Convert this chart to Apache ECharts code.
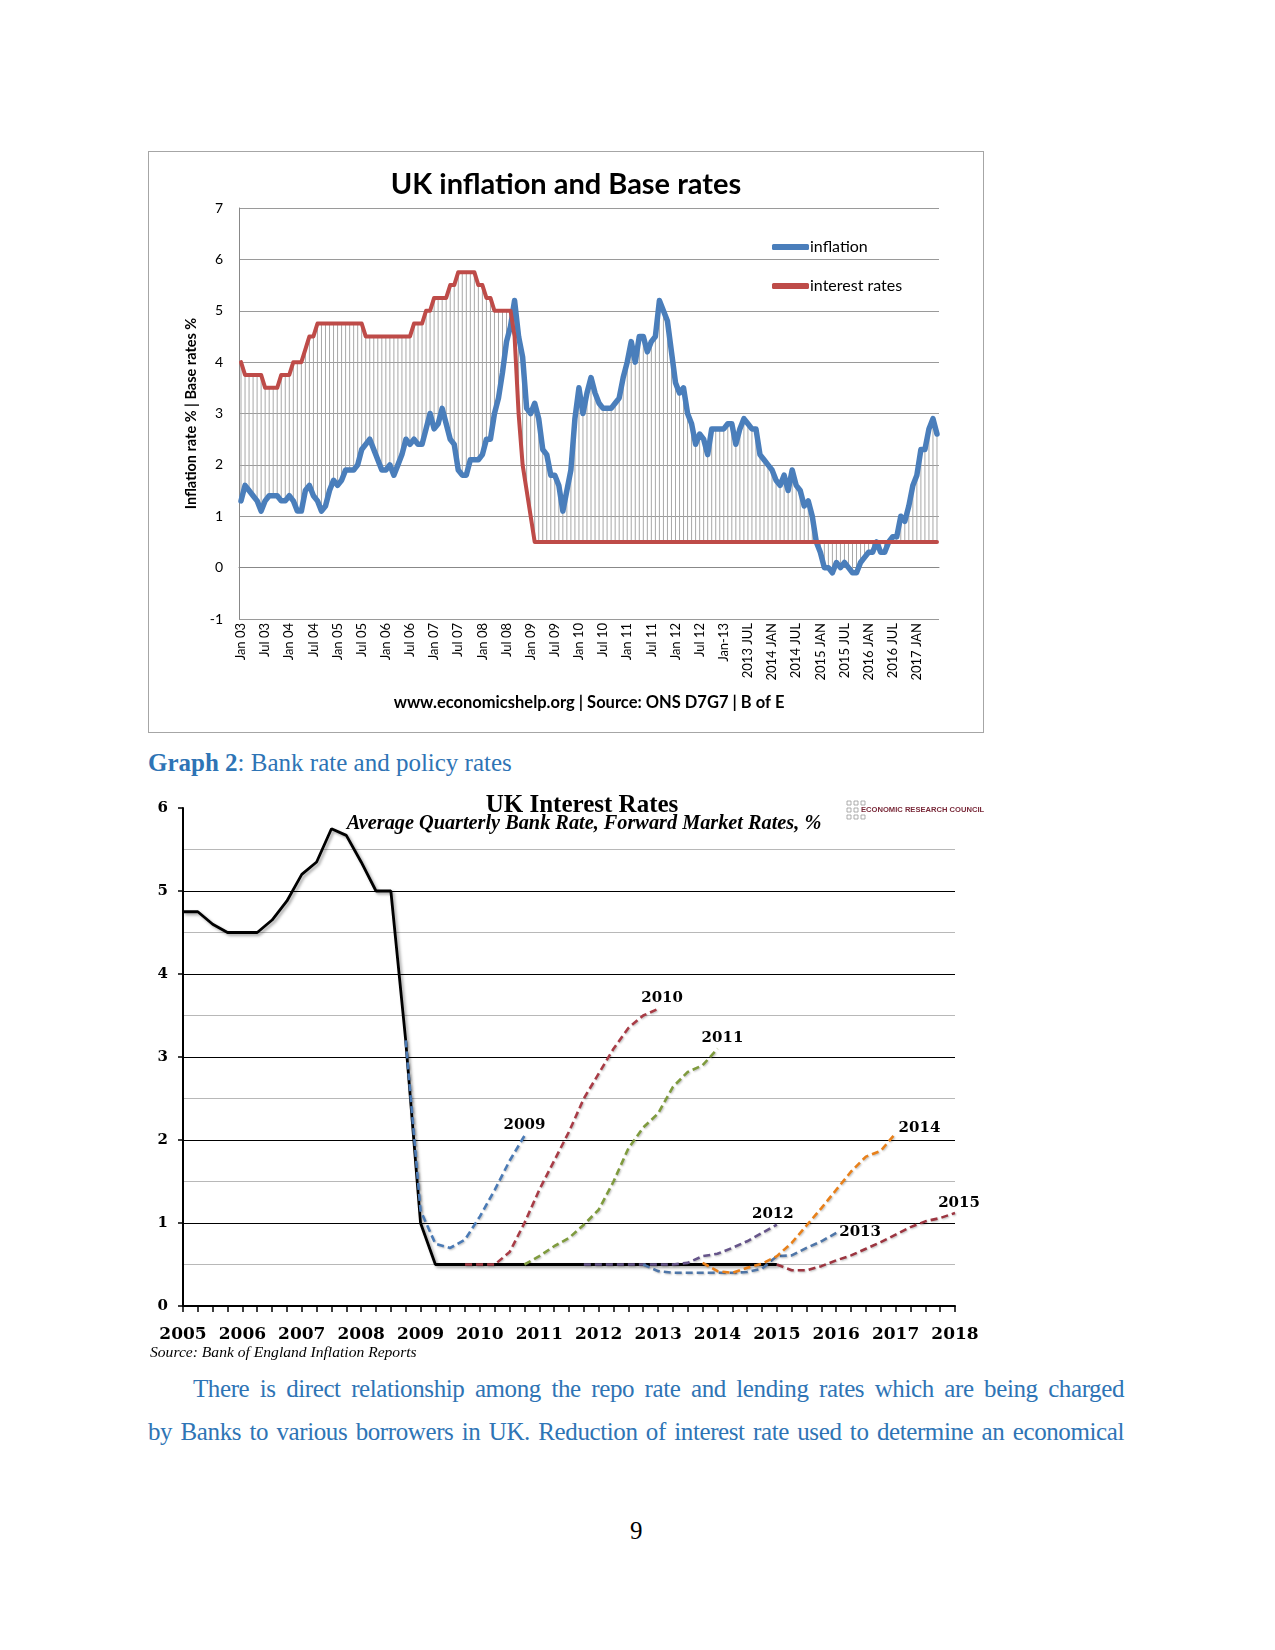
<!DOCTYPE html>
<html><head><meta charset="utf-8">
<script src="https://cdn.jsdelivr.net/npm/echarts@6/dist/echarts.min.js"></script>
<style>
html,body{margin:0;padding:0;background:#fff;}
body{width:1275px;height:1650px;position:relative;overflow:hidden;}
#c1{position:absolute;left:148px;top:151px;width:836px;height:582px;}
#b1{position:absolute;left:148px;top:151px;width:836px;height:582px;box-sizing:border-box;border:1px solid #a6a6a6;pointer-events:none;}
#c2{position:absolute;left:140px;top:785px;width:850px;height:580px;}
.t{position:absolute;font-family:"Liberation Serif","Times New Roman",serif;color:#2e74b5;font-size:25px;line-height:28px;white-space:nowrap;}
.j{text-align:justify;text-align-last:justify;white-space:nowrap;letter-spacing:-0.4px;}
</style></head>
<body>
<div id="c1"></div><div id="b1"></div>
<div class="t" style="left:148px;top:749px;"><b>Graph 2</b>: Bank rate and policy rates</div>
<div id="c2"></div>
<div class="t j" style="left:193px;top:1375px;width:931px;">There is direct relationship among the repo rate and lending rates which are being charged</div>
<div class="t j" style="left:148px;top:1418px;width:976px;">by Banks to various borrowers in UK. Reduction of interest rate used to determine an economical</div>
<div class="t" style="left:630px;top:1517px;color:#000;">9</div>
<script>
// ---------- Chart 1 data (monthly, Jan 2003 - Jun 2017) ----------
const tickLabels = ['Jan 03','Jul 03','Jan 04','Jul 04','Jan 05','Jul 05','Jan 06','Jul 06','Jan 07','Jul 07','Jan 08','Jul 08','Jan 09','Jul 09','Jan 10','Jul 10','Jan 11','Jul 11','Jan 12','Jul 12','Jan-13','2013 JUL','2014 JAN','2014 JUL','2015 JAN','2015 JUL','2016 JAN','2016 JUL','2017 JAN'];
const inflation = [
1.3,1.6,1.5,1.4,1.3,1.1,1.3,1.4,1.4,1.4,1.3,1.3,
1.4,1.3,1.1,1.1,1.5,1.6,1.4,1.3,1.1,1.2,1.5,1.7,
1.6,1.7,1.9,1.9,1.9,2.0,2.3,2.4,2.5,2.3,2.1,1.9,
1.9,2.0,1.8,2.0,2.2,2.5,2.4,2.5,2.4,2.4,2.7,3.0,
2.7,2.8,3.1,2.8,2.5,2.4,1.9,1.8,1.8,2.1,2.1,2.1,
2.2,2.5,2.5,3.0,3.3,3.8,4.4,4.7,5.2,4.5,4.1,3.1,
3.0,3.2,2.9,2.3,2.2,1.8,1.8,1.6,1.1,1.5,1.9,2.9,
3.5,3.0,3.4,3.7,3.4,3.2,3.1,3.1,3.1,3.2,3.3,3.7,
4.0,4.4,4.0,4.5,4.5,4.2,4.4,4.5,5.2,5.0,4.8,4.2,
3.6,3.4,3.5,3.0,2.8,2.4,2.6,2.5,2.2,2.7,2.7,2.7,
2.7,2.8,2.8,2.4,2.7,2.9,2.8,2.7,2.7,2.2,2.1,2.0,
1.9,1.7,1.6,1.8,1.5,1.9,1.6,1.5,1.2,1.3,1.0,0.5,
0.3,0.0,0.0,-0.1,0.1,0.0,0.1,0.0,-0.1,-0.1,0.1,0.2,
0.3,0.3,0.5,0.3,0.3,0.5,0.6,0.6,1.0,0.9,1.2,1.6,
1.8,2.3,2.3,2.7,2.9,2.6];
const interestRates = [
4.0,3.75,3.75,3.75,3.75,3.75,3.5,3.5,3.5,3.5,3.75,3.75,
3.75,4.0,4.0,4.0,4.25,4.5,4.5,4.75,4.75,4.75,4.75,4.75,
4.75,4.75,4.75,4.75,4.75,4.75,4.75,4.5,4.5,4.5,4.5,4.5,
4.5,4.5,4.5,4.5,4.5,4.5,4.5,4.75,4.75,4.75,5.0,5.0,
5.25,5.25,5.25,5.25,5.5,5.5,5.75,5.75,5.75,5.75,5.75,5.5,
5.5,5.25,5.25,5.0,5.0,5.0,5.0,5.0,4.5,3.0,2.0,1.5,
1.0,0.5,0.5,0.5,0.5,0.5,0.5,0.5,0.5,0.5,0.5,0.5,
0.5,0.5,0.5,0.5,0.5,0.5,0.5,0.5,0.5,0.5,0.5,0.5,
0.5,0.5,0.5,0.5,0.5,0.5,0.5,0.5,0.5,0.5,0.5,0.5,
0.5,0.5,0.5,0.5,0.5,0.5,0.5,0.5,0.5,0.5,0.5,0.5,
0.5,0.5,0.5,0.5,0.5,0.5,0.5,0.5,0.5,0.5,0.5,0.5,
0.5,0.5,0.5,0.5,0.5,0.5,0.5,0.5,0.5,0.5,0.5,0.5,
0.5,0.5,0.5,0.5,0.5,0.5,0.5,0.5,0.5,0.5,0.5,0.5,
0.5,0.5,0.5,0.5,0.5,0.5,0.5,0.5,0.5,0.5,0.5,0.5,
0.5,0.5,0.5,0.5,0.5,0.5];

// ---------- Chart 2 data (quarterly, 2005 Q1 - 2018 Q1) ----------
const yearLabels = ['2005','2006','2007','2008','2009','2010','2011','2012','2013','2014','2015','2016','2017','2018'];
const bankRate = [4.75,4.75,4.6,4.5, 4.5,4.5,4.65,4.88, 5.2,5.35,5.75,5.67, 5.35,5.0,5.0,3.2,
  1.0,0.5,0.5,0.5, 0.5,0.5,0.5,0.5, 0.5,0.5,0.5,0.5, 0.5,0.5,0.5,0.5, 0.5,0.5,0.5,0.5, 0.5,0.5,0.5,0.5, 0.5];
const curveNames = ['2009','2010','2011','2012','2013','2014','2015'];
const curveStart = [15,19,23,27,31,35,40];
const curve2009 = [3.2,1.15,0.75,0.7,0.8,1.08,1.4,1.75,2.05];
const curve2010 = [0.5,0.5,0.5,0.65,1.0,1.4,1.75,2.1,2.5,2.8,3.1,3.35,3.5,3.58];
const curve2011 = [0.5,0.6,0.72,0.82,0.98,1.16,1.5,1.9,2.15,2.32,2.64,2.82,2.9,3.1];
const curve2012 = [0.5,0.5,0.5,0.5,0.5,0.5,0.5,0.52,0.6,0.63,0.7,0.78,0.88,0.98];
const curve2013 = [0.5,0.42,0.4,0.4,0.4,0.4,0.4,0.41,0.45,0.6,0.61,0.7,0.78,0.88];
const curve2014 = [0.52,0.42,0.4,0.46,0.51,0.6,0.76,0.97,1.18,1.4,1.62,1.8,1.87,2.08];
const curve2015 = [0.5,0.43,0.43,0.48,0.55,0.61,0.69,0.77,0.86,0.95,1.02,1.06,1.12];
const curveValues = [curve2009,curve2010,curve2011,curve2012,curve2013,curve2014,curve2015];

// ---------- styles ----------
const curveColors = ['#4a7ab5','#a83c46','#7f9b3e','#66558a','#4f76a8','#e8801a','#9c3540'];
const curveLabel = [
  {align:'center',verticalAlign:'bottom',offset:[0,-3]},
  {align:'center',verticalAlign:'bottom',offset:[4,-3]},
  {align:'center',verticalAlign:'bottom',offset:[5,-3]},
  {align:'center',verticalAlign:'bottom',offset:[-4,-3]},
  {align:'left',verticalAlign:'middle',offset:[3,-1]},
  {align:'left',verticalAlign:'middle',offset:[3,-5]},
  {align:'center',verticalAlign:'bottom',offset:[4,-2]}
];

// ---------- Chart 1 ----------
const monthCats = [];
const catLabel = {};
for (let i = 0; i < inflation.length; i++) {
  const y = 2003 + Math.floor(i / 12), m = i % 12 + 1;
  const c = y + '-' + m;
  monthCats.push(c);
  if (i % 6 === 0) catLabel[c] = tickLabels[i / 6];
}
const dropData = monthCats.map((c, i) => [i, inflation[i], interestRates[i]]);
const f1 = 'Lato, "Open Sans", sans-serif';
const chart1 = echarts.init(document.getElementById('c1'));
chart1.setOption({
  animation: false,
  title: {text: 'UK inflation and Base rates', left: 'center', top: 14,
    textStyle: {fontFamily: f1, fontWeight: 'bold', fontSize: 29, color: '#000'}},
  legend: {orient: 'vertical', left: 619, top: 83, itemGap: 23, itemWidth: 37, itemHeight: 6,
    icon: 'roundRect', textStyle: {fontFamily: f1, fontSize: 16, color: '#000', padding: [0,0,0,-4]},
    data: ['inflation', 'interest rates']},
  grid: {left: 91, right: 45, top: 57, bottom: 114},
  xAxis: {type: 'category', data: monthCats, boundaryGap: true,
    axisLine: {lineStyle: {color: '#888'}}, axisTick: {show: false},
    axisLabel: {interval: 0, rotate: 90, margin: 4, fontFamily: f1, fontSize: 13, color: '#000',
      formatter: v => catLabel[v] || ''}},
  yAxis: {type: 'value', min: -1, max: 7, interval: 1,
    name: 'Inflation rate % | Base rates %', nameLocation: 'middle', nameGap: 37,
    nameTextStyle: {fontFamily: f1, fontWeight: 'bold', fontSize: 14.5, color: '#000'},
    axisLine: {show: true, lineStyle: {color: '#888'}}, axisTick: {show: false},
    axisLabel: {margin: 16, fontFamily: f1, fontSize: 14, color: '#000'},
    splitLine: {lineStyle: {color: '#9a9a9a', width: 1}}},
  series: [
    {type: 'custom', name: 'drops', data: dropData, encode: {x: 0, y: [1, 2]}, silent: true, z: 1,
      renderItem: (params, api) => {
        const a = api.coord([api.value(0), api.value(1)]);
        const b = api.coord([api.value(0), api.value(2)]);
        return {type: 'line', shape: {x1: a[0], y1: a[1], x2: b[0], y2: b[1]},
          style: {stroke: '#a8a8a8', lineWidth: 1}};
      }},
    {type: 'line', name: 'inflation', data: inflation, showSymbol: false, z: 3,
      itemStyle: {color: '#4a7ebb'}, lineStyle: {color: '#4a7ebb', width: 5.5, join: 'round', cap: 'round'}},
    {type: 'line', name: 'interest rates', data: interestRates, showSymbol: false, z: 4,
      itemStyle: {color: '#be4b48'}, lineStyle: {color: '#be4b48', width: 4, join: 'round', cap: 'round'}}
  ],
  graphic: [
    {type: 'text', x: 441, y: 552, style: {text: 'www.economicshelp.org | Source: ONS D7G7 | B of E',
      font: 'bold 16.5px Lato, sans-serif', fill: '#000', align: 'center', verticalAlign: 'middle'}}
  ]
});

// ---------- Chart 2 ----------
const quarterCats = [];
for (let y = 0; y < yearLabels.length; y++) {
  for (let q = 1; q <= 4; q++) {
    if (y === yearLabels.length - 1 && q > 1) break;
    quarterCats.push(yearLabels[y] + ' Q' + q);
  }
}
const serifB = '"DejaVu Serif", "Liberation Serif", serif';
function padSeries(start, vals) {
  const out = quarterCats.map(() => null);
  vals.forEach((v, k) => { out[start + k] = v; });
  return out;
}
const series2 = [{
  type: 'line', name: 'Bank Rate', data: padSeries(0, bankRate), showSymbol: false, z: 3,
  lineStyle: {color: '#000', width: 2.8, shadowColor: 'rgba(0,0,0,0.35)', shadowBlur: 3, shadowOffsetX: 2, shadowOffsetY: 2},
  itemStyle: {color: '#000'}
}];
curveNames.forEach((nm, k) => {
  series2.push({
    type: 'line', name: nm, data: padSeries(curveStart[k], curveValues[k]), showSymbol: false, z: 4,
    connectNulls: false,
    lineStyle: {color: curveColors[k], width: 2.6, type: [7, 4],
      shadowColor: 'rgba(0,0,0,0.25)', shadowBlur: 2, shadowOffsetX: 1, shadowOffsetY: 1},
    itemStyle: {color: curveColors[k]},
    endLabel: Object.assign({show: true, formatter: nm, distance: 0, color: '#000',
      fontFamily: serifB, fontWeight: 'bold', fontSize: 15}, curveLabel[k])
  });
});
const logo = [];
const sq = [[0,0],[7,0],[14,0],[0,7],[7,7],[0,14],[7,14],[14,14]];
sq.forEach(p => logo.push({type: 'rect', x: 707 + p[0], y: 16 + p[1],
  shape: {x: 0, y: 0, width: 4, height: 4}, style: {fill: '#fff', stroke: '#9a9a9a', lineWidth: 0.8}}));
logo.push({type: 'text', x: 721, y: 25, style: {text: 'ECONOMIC RESEARCH COUNCIL',
  font: 'bold 7.6px "Liberation Sans", Arial, sans-serif', fill: '#7a2a3a', align: 'left', verticalAlign: 'middle'}});

const chart2 = echarts.init(document.getElementById('c2'));
chart2.setOption({
  animation: false,
  grid: {left: 43, right: 35, top: 23, bottom: 59},
  xAxis: {type: 'category', data: quarterCats, boundaryGap: false,
    axisLine: {lineStyle: {color: '#000', width: 2}},
    axisTick: {show: true, interval: 0, length: 6, lineStyle: {color: '#000', width: 1.5}},
    axisLabel: {interval: 0, margin: 20, fontFamily: serifB, fontWeight: 'bold', fontSize: 17, color: '#000',
      formatter: v => v.endsWith('Q1') ? v.slice(0, 4) : ''},
    splitLine: {show: false}},
  yAxis: [
    {type: 'value', min: 0, max: 6, interval: 0.5,
      axisLine: {show: true, lineStyle: {color: '#000', width: 2}}, axisTick: {show: false},
      axisLabel: {margin: 15, fontFamily: serifB, fontWeight: 'bold', fontSize: 15, color: '#000',
        formatter: v => Number.isInteger(v) ? String(v) : ''},
      splitLine: {show: true, showMaxLine: false, lineStyle: {color: ['#000', '#b8b8b8'], width: 1.2}}},
    {type: 'value', min: 0, max: 6, interval: 1, position: 'left',
      axisLine: {show: false}, axisLabel: {show: false}, splitLine: {show: false},
      axisTick: {show: true, length: 5, lineStyle: {color: '#000', width: 1.5}}}
  ],
  series: series2,
  graphic: [
    {type: 'text', x: 442, y: 21, style: {text: 'UK Interest Rates',
      font: 'bold 25px "Liberation Serif", serif', fill: '#000', align: 'center', verticalAlign: 'middle'}},
    {type: 'text', x: 444, y: 39, style: {text: 'Average Quarterly Bank Rate, Forward Market Rates, %',
      font: 'italic bold 20.3px "Liberation Serif", serif', fill: '#000', align: 'center', verticalAlign: 'middle'}},
    {type: 'text', x: 10, y: 568, style: {text: 'Source: Bank of England Inflation Reports',
      font: 'italic 15.6px "Liberation Serif", serif', fill: '#000', align: 'left', verticalAlign: 'middle'}}
  ].concat(logo)
});
</script>
</body></html>
